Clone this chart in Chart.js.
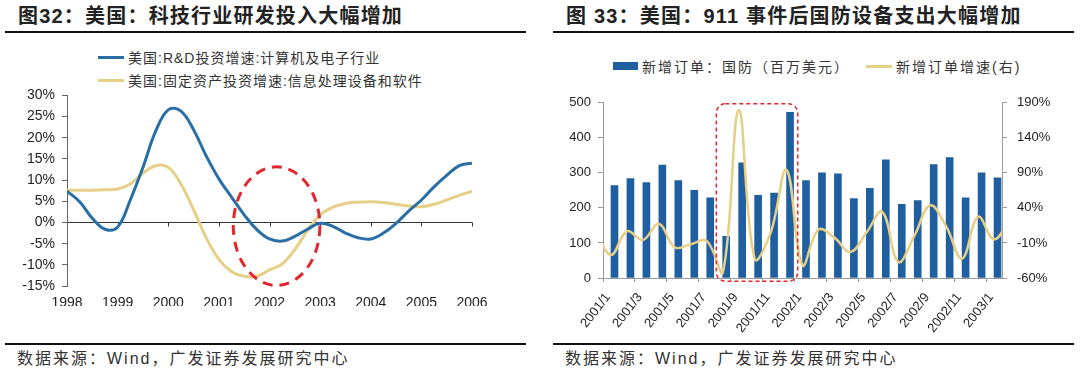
<!DOCTYPE html>
<html lang="zh-CN">
<head>
<meta charset="utf-8">
<title>美国：科技行业研发投入 / 911 事件后国防设备支出</title>
<script src="https://cdn.jsdelivr.net/npm/chart.js@4.4.1/dist/chart.umd.min.js"></script>
<style>
  html, body { margin: 0; padding: 0; background: #fff; }
  body { width: 1080px; height: 374px; position: relative; overflow: hidden;
         font-family: "Liberation Sans", "Noto Sans CJK SC", sans-serif; color: #222; }
  .title { position: absolute; top: 2px; font-size: 20px; font-weight: bold; line-height: 28px;
           letter-spacing: 1.2px; white-space: nowrap; color: #222; }
  .rule { position: absolute; height: 2px; background: #111; }
  .source { position: absolute; top: 348px; font-size: 16px; line-height: 22px; letter-spacing: 2px;
            color: #333; white-space: nowrap; }
  .legend-item { position: absolute; display: flex; align-items: center; height: 20px;
                 font-size: 14px; letter-spacing: 1px; color: #333; white-space: nowrap; }
  #legendRight .legend-item { letter-spacing: 2px; }
  .legend-line { display: inline-block; width: 26px; height: 3px; margin-right: 4px; }
  .legend-box { display: inline-block; width: 25px; height: 8px; margin-right: 4px; }
  canvas { position: absolute; }
</style>
</head>
<body>

<div class="title" style="left:18px">图32：美国：科技行业研发投入大幅增加</div>
<div class="title" style="left:566px">图 33：美国：911 事件后国防设备支出大幅增加</div>
<div class="rule" style="left:5px; top:31px; width:521px"></div>
<div class="rule" style="left:553px; top:31px; width:521px"></div>

<div id="legendLeft"></div>
<div id="legendRight"></div>

<canvas id="techChart" width="540" height="226" style="left:0; top:80px"></canvas>
<canvas id="defenseChart" width="540" height="252" style="left:540px; top:85px"></canvas>

<div class="rule" style="left:5px; top:343px; width:521px"></div>
<div class="rule" style="left:553px; top:343px; width:521px"></div>
<div class="source" style="left:17px">数据来源：Wind，广发证券发展研究中心</div>
<div class="source" style="left:565px">数据来源：Wind，广发证券发展研究中心</div>

<script>
// ---- Figure 32: quarterly growth, 1998 - 2006 (%) ----
const rdLabel = '美国:R&D投资增速:计算机及电子行业';
const itLabel = '美国:固定资产投资增速:信息处理设备和软件';
const yearTicks = [1998, 1999, 2000, 2001, 2002, 2003, 2004, 2005, 2006];
const quarterX = [];
for (let i = 0; i <= 32; i++) quarterX.push(1998 + i / 4);

const rdGrowth = [7.4, 4.9, 1.0, -1.6, -1.1, 5.3, 13, 21.5, 26.6, 26.3, 21.9, 15.7, 10.3,
  6, 1.8, -1.7, -3.9, -4.4, -3.3, -1.6, -0.2, -0.9, -2.5, -3.6, -3.9, -2.5, -0.2,
  2.7, 5.3, 8.4, 11.1, 13.4, 14];
const itGrowth = [7.6, 7.6, 7.6, 7.7, 7.9, 9.1, 11.6, 13.4, 13, 9.1, 3.0, -3.6, -8.7,
  -11.6, -12.7, -12.7, -11.2, -9.8, -6.4, -1.9, 1.8, 3.6, 4.5, 4.8, 4.9, 4.7, 4.3,
  3.9, 3.7, 4.3, 5.3, 6.4, 7.4];

// ---- Figure 33: monthly new defense orders ----
// first / last months only carry the growth line out to the plot edges
const orderLabel = '新增订单：国防（百万美元）';
const growthLabel = '新增订单增速(右)';
const months = ['2000/12',
  '2001/1', '2001/2', '2001/3', '2001/4', '2001/5', '2001/6', '2001/7', '2001/8', '2001/9', '2001/10', '2001/11', '2001/12',
  '2002/1', '2002/2', '2002/3', '2002/4', '2002/5', '2002/6', '2002/7', '2002/8', '2002/9', '2002/10', '2002/11', '2002/12',
  '2003/1', '2003/2'];
const defenseOrders = [null,
  264, 284, 272, 322, 278, 250, 229, 119, 329, 236, 242, 473,
  278, 300, 297, 227, 256, 337, 210, 221, 324, 344, 229, 300,
  286, null];
const orderGrowth = [10,
  -27, 6.7, -5.7, 17.3, -16.3, -11.7, -7.1, -53, 179.4, -32.4, 4.5, 94.3,
  -41.6, 9, -2.4, -23, 4.5, 34.4, -37, -0.2, 43.6, 13.6, -32.4, 27.4,
  -4.8, 25];

const BLUE_LINE = '#2a6ea6';
const YELLOW_LINE = '#e6cf86';
const BAR_BLUE = '#1f5fa0';
const RED = '#e3262d';
const TICK_FONT = { family: "'Liberation Sans', Arial, sans-serif", size: 14 };

// Custom HTML legend rows
function addLegendItem(containerId, label, color, kind, left, top) {
  const item = document.createElement('div');
  item.className = 'legend-item';
  item.style.left = left + 'px';
  item.style.top = top + 'px';
  const swatch = document.createElement('span');
  swatch.className = kind === 'box' ? 'legend-box' : 'legend-line';
  swatch.style.background = color;
  const text = document.createElement('span');
  text.textContent = label;
  item.appendChild(swatch);
  item.appendChild(text);
  document.getElementById(containerId).appendChild(item);
}
addLegendItem('legendLeft', rdLabel, BLUE_LINE, 'line', 98, 47);
addLegendItem('legendLeft', itLabel, YELLOW_LINE, 'line', 98, 70);
addLegendItem('legendRight', orderLabel, BAR_BLUE, 'box', 613, 56);
addLegendItem('legendRight', growthLabel, YELLOW_LINE, 'line', 866, 56);

// zero line tick marks + dashed ellipse around 2002
const techDecor = {
  id: 'techDecor',
  beforeDatasetsDraw(chart) {
    const { ctx, scales: { x, y } } = chart;
    const y0 = y.getPixelForValue(0);
    ctx.save();
    ctx.strokeStyle = '#333';
    ctx.lineWidth = 1;
    yearTicks.slice(1).forEach(yr => {
      const px = Math.round(x.getPixelForValue(yr)) + 0.5;
      ctx.beginPath();
      ctx.moveTo(px, y0);
      ctx.lineTo(px, y0 + 4);
      ctx.stroke();
    });
    ctx.restore();
  },
  afterDatasetsDraw(chart) {
    const { ctx, scales: { x, y } } = chart;
    const cx = x.getPixelForValue(2002.14);
    const cy = y.getPixelForValue(-0.86);
    const rx = x.getPixelForValue(2002.14 + 0.855) - cx;
    const ry = cy - y.getPixelForValue(-0.86 + 14);
    ctx.save();
    ctx.strokeStyle = RED;
    ctx.lineWidth = 3;
    ctx.setLineDash([10, 7]);
    ctx.beginPath();
    ctx.ellipse(cx, cy, rx, ry, 0, 0, Math.PI * 2);
    ctx.stroke();
    ctx.restore();
  }
};

// dashed rounded box around 2001/8 - 2001/12
const defenseDecor = {
  id: 'defenseDecor',
  afterDatasetsDraw(chart) {
    const { ctx, scales: { x, y } } = chart;
    const x0 = x.getPixelForValue(months.indexOf('2001/8') - 0.4);
    const x1 = x.getPixelForValue(months.indexOf('2001/12') + 0.7);
    const y0 = y.getPixelForValue(497);
    const y1 = y.getPixelForValue(-9);
    ctx.save();
    ctx.strokeStyle = RED;
    ctx.lineWidth = 1.5;
    ctx.setLineDash([4, 3]);
    ctx.beginPath();
    ctx.roundRect(x0, y0, x1 - x0, y1 - y0, 9);
    ctx.stroke();
    ctx.restore();
  }
};

new Chart(document.getElementById('techChart'), {
  type: 'line',
  data: {
    datasets: [
      { label: rdLabel, data: quarterX.map((q, i) => ({ x: q, y: rdGrowth[i] })),
        borderColor: BLUE_LINE, borderWidth: 3, pointRadius: 0, tension: 0.4 },
      { label: itLabel, data: quarterX.map((q, i) => ({ x: q, y: itGrowth[i] })),
        borderColor: YELLOW_LINE, borderWidth: 3, pointRadius: 0, tension: 0.4 }
    ]
  },
  options: {
    responsive: false,
    animation: false,
    devicePixelRatio: 1,
    layout: { padding: { left: 0, right: 68, top: 12, bottom: 0 } },
    plugins: { legend: { display: false }, tooltip: { enabled: false } },
    scales: {
      x: {
        type: 'linear', min: 1998, max: 2006,
        afterFit: s => { s.height = 20; },
        grid: { display: false },
        border: { display: false },
        ticks: { stepSize: 1, padding: 1, color: '#222', font: TICK_FONT, callback: v => String(v) }
      },
      y: {
        min: -15, max: 30,
        afterFit: s => { s.width = 67; },
        grid: {
          color: c => (c.tick && c.tick.value === 0 ? '#333' : 'rgba(0,0,0,0)'),
          tickColor: '#666', tickLength: 5, lineWidth: 1
        },
        border: { display: true, color: '#666', width: 1 },
        ticks: { stepSize: 5, padding: 7, color: '#222', font: TICK_FONT, callback: v => v + '%' }
      }
    }
  },
  plugins: [techDecor]
});

// the growth line sits on a hidden linear axis (category index), so its
// points outside 2001/1 - 2003/1 still run to the plot edges and get clipped
new Chart(document.getElementById('defenseChart'), {
  data: {
    labels: months,
    datasets: [
      { type: 'line', label: growthLabel, data: orderGrowth.map((v, i) => ({ x: i, y: v })),
        xAxisID: 'xLine', yAxisID: 'y1', order: 0,
        borderColor: YELLOW_LINE, borderWidth: 2.5, pointRadius: 0, tension: 0.4, clip: 0 },
      { type: 'bar', label: orderLabel, data: defenseOrders, xAxisID: 'x', yAxisID: 'y', order: 1,
        backgroundColor: BAR_BLUE, barThickness: 7 }
    ]
  },
  options: {
    responsive: false,
    animation: false,
    devicePixelRatio: 1,
    layout: { padding: { left: 0, right: 0, top: 12, bottom: 0 } },
    plugins: { legend: { display: false }, tooltip: { enabled: false } },
    scales: {
      x: {
        type: 'category', min: '2001/1', max: '2003/1', offset: true,
        afterFit: s => { s.height = 59; },
        grid: {
          offset: true, drawOnChartArea: false, tickLength: 4,
          color: c => (c.index % 2 === 0 ? '#999' : 'rgba(0,0,0,0)')
        },
        border: { display: true, color: '#999' },
        ticks: {
          autoSkip: false, minRotation: 52, maxRotation: 52, padding: 8, labelOffset: -3,
          color: '#222', font: { family: TICK_FONT.family, size: 13 },
          callback: function (v, i) { return i % 2 === 0 ? this.getLabelForValue(v) : ''; }
        }
      },
      xLine: {
        type: 'linear', display: false,
        min: months.indexOf('2001/1') - 0.5, max: months.indexOf('2003/1') + 0.5
      },
      y: {
        position: 'left', min: 0, max: 500,
        afterFit: s => { s.width = 63; },
        grid: { drawOnChartArea: false, color: '#999', tickLength: 5 },
        border: { display: true, color: '#999' },
        ticks: { stepSize: 50, padding: 7, color: '#222', font: { family: TICK_FONT.family, size: 13 } }
      },
      y1: {
        position: 'right', min: -60, max: 190,
        afterFit: s => { s.width = 78; },
        grid: { drawOnChartArea: false, color: '#999', tickLength: 5 },
        border: { display: true, color: '#999' },
        ticks: { stepSize: 50, padding: 10, color: '#222', font: { family: TICK_FONT.family, size: 13 },
                 callback: v => v + '%' }
      }
    }
  },
  plugins: [defenseDecor]
});
</script>
</body>
</html>
